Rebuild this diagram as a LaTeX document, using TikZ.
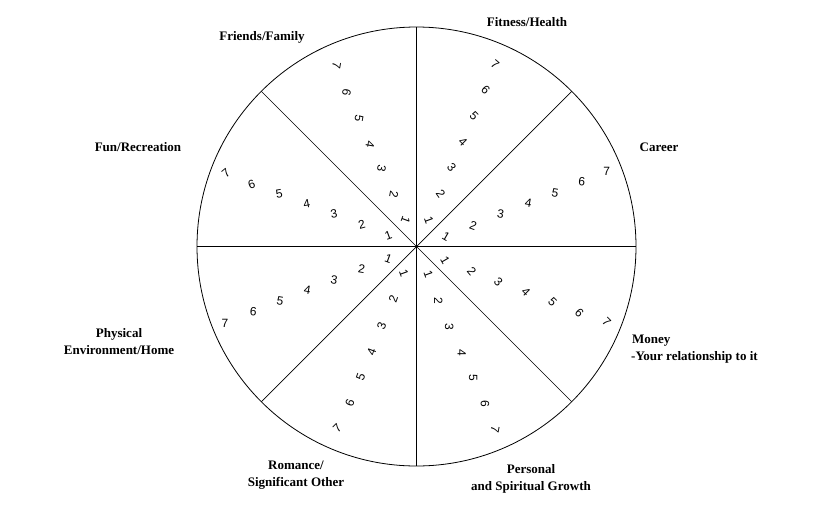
\documentclass[tikz,border=0pt]{standalone}
\usepackage{fontspec}
\setmainfont{Liberation Serif}
\newfontfamily\digf{Liberation Sans}
\begin{document}
\begin{tikzpicture}[x=1pt,y=-1pt,
  lab/.style={font=\fontsize{13}{15}\selectfont\bfseries,align=center,inner sep=0},
  dg/.style={font=\digf\fontsize{12}{12}\selectfont,inner sep=0}]
\useasboundingbox (0,0) rectangle (835,528);
\coordinate (c) at (416.5,246.5);
\draw[line width=0.8pt] (c) circle (219.5);
\foreach \a in {0,45,...,315}{\draw[line width=0.7pt] (c) -- ++(\a:219.5 and -219.5);}
\def\digs#1{\foreach \n/\x/\y/\r in {#1}{\node[dg,rotate=\r] at (\x,\y) {\n};}}
\digs{1/405.7/220/-110,2/394/195/-100,3/381.7/168/-100,4/370/144/-100,5/359/118/-100,6/346.7/92/-100,7/336.7/65/-100}
\digs{1/429/220/-70,2/440.7/194/-55,3/451.7/167/-50,4/463/142/-45,5/474/116/-45,6/485.7/90/-45,7/495/64/-40}
\digs{1/446/236.7/-30,2/473.3/226/-20,3/500.7/214/-10,4/528.3/203/-10,5/555/192.7/-10,6/581.7/181.7/-5,7/606.7/171.7/0}
\digs{1/388.3/235/20,2/361.7/225/15,3/334/214/10,4/306.7/204/10,5/279.3/194/10,6/251.7/184/20,7/226/172.7/40}
\digs{1/388.3/258.3/-20,2/361.7/269.3/-10,3/334/280/-10,4/307.3/290/-10,5/280/301/-10,6/253.3/311.7/-5,7/225/323.3/0}
\digs{1/404/273.3/-70,2/393.3/299.3/70,3/381.7/326/70,4/371.7/351.7/70,5/360.7/376.7/70,6/350/403.3/70,7/337.3/428.3/45}
\digs{1/428.3/274.3/-70,2/438.3/301/-90,3/449.3/326.7/-90,4/461.7/353.3/-90,5/473.3/378.3/-90,6/485/404/-90,7/495/429.3/-100}
\digs{1/445/260/-60,2/471.7/271/-50,3/498.3/281.7/-45,4/526/291.7/-45,5/552.7/301.7/-45,6/579.3/312.7/-45,7/606.7/321.7/-45}
\node[lab] (ff) at (262,37) {Friends/Family};
\node[lab] (fh) at (527,22) {Fitness/Health};
\node[lab] (ca) at (659,147) {Career};
\node[lab] (fr) at (138,147) {Fun/Recreation};
\node[lab] (pe) at (119,341.5) {Physical\\[2pt]Environment/Home};
\node[lab,align=left,anchor=west] (mo) at (631,349.5) {\hspace*{1pt}Money\\[2pt]-Your relationship to it};
\node[lab] (ro) at (296,475) {Romance/\\[2pt]Significant Other};
\node[lab] (ps) at (531,479) {Personal\\[2pt]and Spiritual Growth};
\end{tikzpicture}
\end{document}
